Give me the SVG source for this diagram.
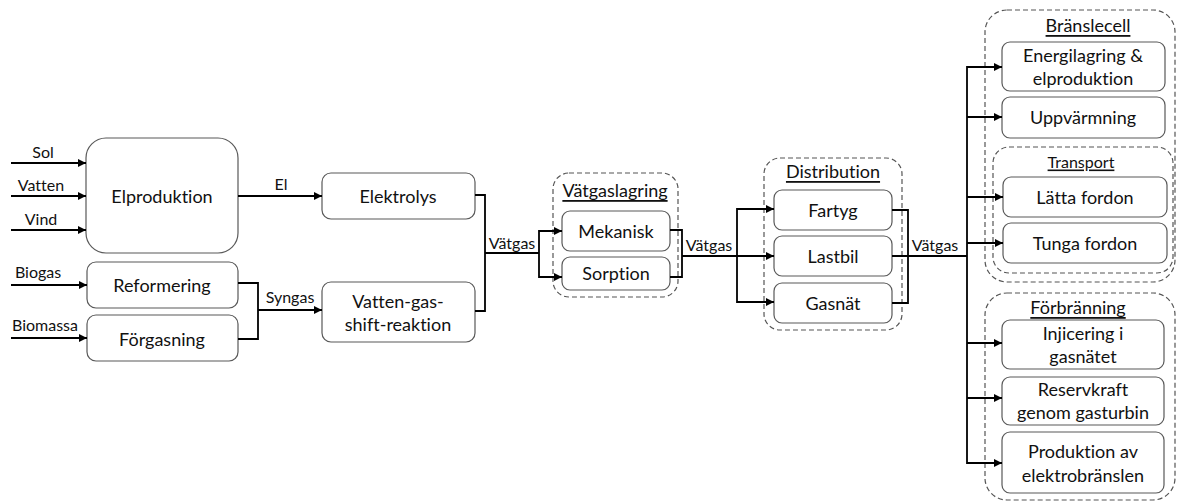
<svg xmlns="http://www.w3.org/2000/svg" width="1178" height="504" viewBox="0 0 1178 504">
  <defs>
    <marker id="arrow" viewBox="0 0 8 8" refX="8" refY="4" markerWidth="8" markerHeight="8" markerUnits="userSpaceOnUse" orient="auto">
      <path d="M0,0 L8,4 L0,8 z" fill="#000"/>
    </marker>
    <style>
      text { font-family: Lato, "Liberation Sans", sans-serif; fill: #111; text-anchor: middle; dominant-baseline: central; font-variant-ligatures: none; }
      .box { fill: #fff; stroke: #595959; stroke-width: 1.2; }
      .group { fill: none; stroke: #555; stroke-width: 1.2; stroke-dasharray: 5 3; }
      .lbl { font-size: 18px; }
      .title { font-size: 18px; text-decoration: underline; }
      .title.small { font-size: 16px; }
      .edge { font-size: 16px; }
      .wire { fill: none; stroke: #000; stroke-width: 1.8; }
      .arr { fill: none; stroke: #000; stroke-width: 1.8; marker-end: url(#arrow); }
    </style>
  </defs>
  <rect width="1178" height="504" fill="#fff"/>

  <!-- dashed group frames -->
  <g id="groups">
    <g id="grp-vatgaslagring">
      <rect class="group" x="553" y="173" width="125" height="124" rx="16"/>
      <text class="title" x="615" y="190">Vätgaslagring</text>
    </g>
    <g id="grp-distribution">
      <rect class="group" x="764" y="158" width="138" height="172" rx="16"/>
      <text class="title" x="833" y="171">Distribution</text>
    </g>
    <g id="grp-branslecell">
      <rect class="group" x="985" y="10" width="190" height="272" rx="22"/>
      <text class="title" x="1088" y="25">Bränslecell</text>
    </g>
    <g id="grp-transport">
      <rect class="group" x="993" y="147" width="180" height="126" rx="16"/>
      <text class="title small" x="1081" y="161">Transport</text>
    </g>
    <g id="grp-forbranning">
      <rect class="group" x="985" y="293" width="190" height="207" rx="22"/>
      <text class="title" x="1078" y="307">Förbränning</text>
    </g>
  </g>

  <!-- process nodes -->
  <g id="elproduktion">
    <rect class="box" x="86" y="138" width="152" height="115" rx="20"/>
    <text class="lbl" x="162" y="196">Elproduktion</text>
  </g>
  <g id="reformering">
    <rect class="box" x="87" y="262" width="151" height="46" rx="9"/>
    <text class="lbl" x="162" y="285">Reformering</text>
  </g>
  <g id="forgasning">
    <rect class="box" x="87" y="315" width="151" height="46" rx="9"/>
    <text class="lbl" x="162" y="339">Förgasning</text>
  </g>
  <g id="elektrolys">
    <rect class="box" x="322" y="173" width="153" height="46" rx="9"/>
    <text class="lbl" x="398" y="196">Elektrolys</text>
  </g>
  <g id="vatten-gas-shift">
    <rect class="box" x="322" y="282" width="153" height="60" rx="9"/>
    <text class="lbl" x="398" y="301">Vatten-gas-</text>
    <text class="lbl" x="398" y="324">shift-reaktion</text>
  </g>
  <g id="mekanisk">
    <rect class="box" x="562" y="211" width="108" height="40" rx="8"/>
    <text class="lbl" x="616" y="231">Mekanisk</text>
  </g>
  <g id="sorption">
    <rect class="box" x="562" y="257" width="108" height="33" rx="8"/>
    <text class="lbl" x="616" y="273">Sorption</text>
  </g>
  <g id="fartyg">
    <rect class="box" x="774" y="190" width="118" height="40" rx="8"/>
    <text class="lbl" x="833" y="210">Fartyg</text>
  </g>
  <g id="lastbil">
    <rect class="box" x="774" y="236" width="118" height="40" rx="8"/>
    <text class="lbl" x="833" y="256">Lastbil</text>
  </g>
  <g id="gasnat">
    <rect class="box" x="774" y="283" width="118" height="40" rx="8"/>
    <text class="lbl" x="833" y="303">Gasnät</text>
  </g>
  <g id="energilagring">
    <rect class="box" x="1002" y="42" width="163" height="49" rx="8"/>
    <text class="lbl" x="1083" y="55">Energilagring &amp;</text>
    <text class="lbl" x="1083" y="78">elproduktion</text>
  </g>
  <g id="uppvarmning">
    <rect class="box" x="1002" y="97" width="163" height="41" rx="8"/>
    <text class="lbl" x="1083" y="117">Uppvärmning</text>
  </g>
  <g id="latta-fordon">
    <rect class="box" x="1003" y="177" width="164" height="40" rx="8"/>
    <text class="lbl" x="1085" y="197">Lätta fordon</text>
  </g>
  <g id="tunga-fordon">
    <rect class="box" x="1003" y="223" width="164" height="40" rx="8"/>
    <text class="lbl" x="1085" y="243">Tunga fordon</text>
  </g>
  <g id="injicering">
    <rect class="box" x="1002" y="320" width="162" height="49" rx="8"/>
    <text class="lbl" x="1083" y="333">Injicering i</text>
    <text class="lbl" x="1083" y="356">gasnätet</text>
  </g>
  <g id="reservkraft">
    <rect class="box" x="1002" y="377" width="162" height="48" rx="8"/>
    <text class="lbl" x="1083" y="389">Reservkraft</text>
    <text class="lbl" x="1083" y="412">genom gasturbin</text>
  </g>
  <g id="elektrobranslen">
    <rect class="box" x="1002" y="432" width="162" height="61" rx="8"/>
    <text class="lbl" x="1083" y="451">Produktion av</text>
    <text class="lbl" x="1083" y="475">elektrobränslen</text>
  </g>

  <!-- connectors -->
  <g id="connectors">
    <path class="arr" d="M11,163 H86"/>
    <path class="arr" d="M11,196 H86"/>
    <path class="arr" d="M11,230 H86"/>
    <path class="arr" d="M11,285 H87"/>
    <path class="arr" d="M11,338 H87"/>
    <path class="arr" d="M238,196 H322"/>
    <path class="wire" d="M238,283 H258 V339 H238"/>
    <path class="arr" d="M258,310 H322"/>
    <path class="wire" d="M475,195 H485 V311 H475"/>
    <path class="wire" d="M485,253 H539"/>
    <path class="arr" d="M539,253 V231 H562"/>
    <path class="arr" d="M539,253 V277 H562"/>
    <path class="wire" d="M670,230 H682 V277 H670"/>
    <path class="arr" d="M682,256 H774"/>
    <path class="arr" d="M737,256 V209 H774"/>
    <path class="arr" d="M737,256 V302 H774"/>
    <path class="wire" d="M892,210 H908 V303 H892"/>
    <path class="wire" d="M892,256 H967"/>
    <path class="wire" d="M967,66 V464"/>
    <path class="arr" d="M967,67 H1002"/>
    <path class="arr" d="M967,117 H1002"/>
    <path class="arr" d="M967,197 H1003"/>
    <path class="arr" d="M967,243 H1003"/>
    <path class="arr" d="M967,343 H1002"/>
    <path class="arr" d="M967,398 H1002"/>
    <path class="arr" d="M967,463 H1002"/>

    <text class="edge" x="43" y="151">Sol</text>
    <text class="edge" x="41" y="184">Vatten</text>
    <text class="edge" x="41" y="218">Vind</text>
    <text class="edge" x="38" y="271">Biogas</text>
    <text class="edge" x="45" y="324">Biomassa</text>
    <text class="edge" x="281" y="183">El</text>
    <text class="edge" x="290" y="296">Syngas</text>
    <text class="edge" x="512" y="242">Vätgas</text>
    <text class="edge" x="709" y="244">Vätgas</text>
    <text class="edge" x="935" y="244">Vätgas</text>
  </g>
</svg>
